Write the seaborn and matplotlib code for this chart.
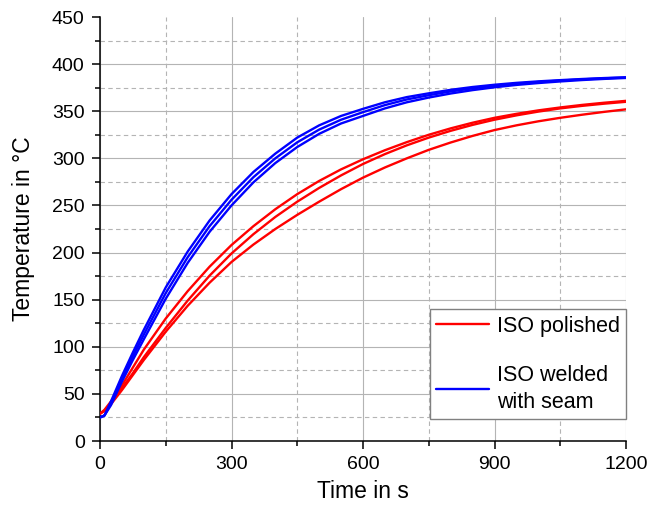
import numpy as np
import pandas as pd
import matplotlib
matplotlib.use("Agg")
import matplotlib.pyplot as plt
from matplotlib.lines import Line2D
from matplotlib.ticker import MultipleLocator
import seaborn as sns

# ---- data ----
time_s = [0, 10, 25, 50, 75, 100, 150, 200, 250, 300, 350, 400, 450, 500,
          550, 600, 650, 700, 750, 800, 850, 900, 950, 1000, 1050, 1100, 1150, 1200]

polished_1 = [29, 33, 42, 59, 78, 97, 130, 159, 185, 208, 228, 246, 262, 276,
              288.3, 299, 308.6, 317.2, 325, 331.8, 337.8, 343, 347.2, 350.9, 354, 356.7, 359, 361]
polished_2 = [29, 32, 40, 56, 72, 89, 120, 149, 175.5, 199, 219.5, 237.8, 254, 268.6,
              281.9, 294, 304.5, 313.8, 322, 329.2, 335.5, 341, 345.6, 349.6, 353, 355.7, 358, 360]
polished_3 = [29, 32, 39, 54, 70, 86, 116, 143.5, 168, 190, 208.5, 225, 240, 254,
              267.3, 279.5, 290.3, 300, 309, 316.8, 323.8, 330, 335, 339.3, 343, 346.3, 349.3, 352]

welded_1 = [25, 27, 42, 69, 94, 118, 163, 201, 234, 262, 285.5, 305, 322, 335,
            345, 352.5, 359.5, 365, 369, 372.7, 375.7, 378.1, 380.1, 381.7, 383, 384.2, 385.2, 386]
welded_2 = [25, 27, 40, 66, 90, 113, 157, 195, 228, 256, 280, 300, 317, 330.5,
            341, 349, 356.5, 362.5, 367, 371, 374.3, 377, 379.2, 381, 382.5, 383.8, 384.9, 385.8]
welded_3 = [25, 27, 38, 63, 86, 108, 151, 189, 222, 250, 274.5, 295, 312, 326,
            337, 345, 353, 359.5, 364.5, 368.8, 372.4, 375.4, 377.9, 379.9, 381.6, 383.1, 384.3, 385.3]

series_names = ["ISO polished", "ISO welded\nwith seam"]
series_colors = ["#ff0000", "#0000ff"]

x_ticks = [0, 300, 600, 900, 1200]
y_ticks = [0, 50, 100, 150, 200, 250, 300, 350, 400, 450]

runs = [
    (series_names[0], "p1", polished_1),
    (series_names[0], "p2", polished_2),
    (series_names[0], "p3", polished_3),
    (series_names[1], "w1", welded_1),
    (series_names[1], "w2", welded_2),
    (series_names[1], "w3", welded_3),
]
rows = []
for grp, run, vals in runs:
    for tt, vv in zip(time_s, vals):
        rows.append({"t": tt, "T": vv, "group": grp, "run": run})
df = pd.DataFrame(rows)

# ---- style ----
sns.set_theme(style="white")
fam = "Liberation Sans"
fs_tick, fs_label, fs_leg = 14, 16.5, 15.5
plt.rcParams["font.family"] = [fam, "DejaVu Sans"]
plt.rcParams["text.color"] = "black"
plt.rcParams["axes.labelcolor"] = "black"
plt.rcParams["xtick.color"] = "black"
plt.rcParams["ytick.color"] = "black"

fig = plt.figure(figsize=(6.57, 5.07), dpi=100)
ax = fig.add_axes([100 / 657, 1 - 441 / 507, 526 / 657, 424 / 507])

sns.lineplot(data=df, x="t", y="T", hue="group", units="run", estimator=None,
             palette=dict(zip(series_names, series_colors)), linewidth=1.7,
             legend=False, ax=ax, zorder=3)

ax.set_xlim(0, 1200)
ax.set_ylim(0, 450)
ax.set_xticks(x_ticks)
ax.set_yticks(y_ticks)
ax.xaxis.set_minor_locator(MultipleLocator(150))
ax.yaxis.set_minor_locator(MultipleLocator(25))

ax.set_axisbelow(True)
ax.grid(which="major", color="#b4b4b4", linewidth=0.8, linestyle="-")
ax.grid(which="minor", color="#b4b4b4", linewidth=0.8, linestyle=(0, (4, 3)))
# no gridline along the top edge
ax.yaxis.get_major_ticks()[-1].gridline.set_visible(False)

for s in ["top", "right"]:
    ax.spines[s].set_visible(False)
for s in ["left", "bottom"]:
    ax.spines[s].set_color("black")
    ax.spines[s].set_linewidth(1.1)

ax.tick_params(which="major", direction="out", length=6, width=1.1, color="black",
               labelsize=fs_tick, labelcolor="black", pad=5, left=True, bottom=True)
ax.tick_params(which="minor", direction="out", length=3.5, width=1.1, color="black",
               left=True, bottom=True)

ax.set_xlabel("Time in s", fontsize=fs_label, labelpad=5, color="black")
ax.set_ylabel("Temperature in °C", fontsize=fs_label, labelpad=12, color="black")

handles = [Line2D([], [], color=c, linewidth=1.7) for c in series_colors]
leg = ax.legend(handles, series_names, loc="lower right", bbox_to_anchor=(1.0, 22 / 424),
                borderaxespad=0, fontsize=fs_leg, frameon=True, fancybox=False,
                edgecolor="#808080", framealpha=1, handlelength=2.45,
                handletextpad=0.35, labelspacing=1.3, borderpad=0.3)
for txt in leg.get_texts():
    txt.set_linespacing(1.35)
    txt.set_color("black")
leg.get_frame().set_linewidth(1.0)
leg.set_zorder(5)

fig.savefig("out.png", dpi=100)
